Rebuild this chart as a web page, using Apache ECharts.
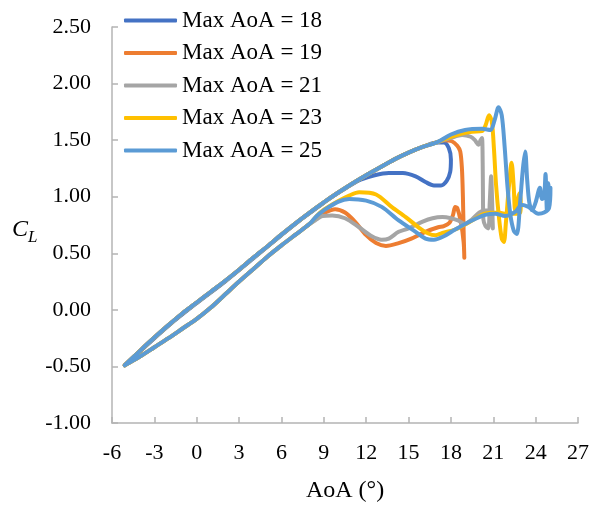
<!DOCTYPE html>
<html>
<head>
<meta charset="utf-8">
<script src="https://cdn.jsdelivr.net/npm/echarts@6/dist/echarts.min.js"></script>
<style>
html,body{margin:0;padding:0;background:#fff;}
#chart{width:592px;height:508px;}
</style>
</head>
<body>
<div id="chart"></div>
<script>
// ---- Data (AoA in degrees, CL) ----
var seriesNames = ['Max AoA = 18', 'Max AoA = 19', 'Max AoA = 21', 'Max AoA = 23', 'Max AoA = 25'];
var seriesColors = ['#4472C4', '#ED7D31', '#A5A5A5', '#FFC000', '#5B9BD5'];

// shared upstroke branch (-5 -> 17 deg)
var upstroke = [[-5.1,-0.49],[-4,-0.36],[-3,-0.245],[-2,-0.135],[-1,-0.03],[0,0.065],[1,0.16],[2,0.255],[3,0.355],[4,0.46],[5,0.56],[6,0.665],[7,0.765],[8,0.86],[9,0.95],[10,1.035],[11,1.115],[12,1.19],[13,1.26],[14,1.33],[15,1.39],[16,1.44],[17,1.48]];
// shared downstroke branch (8 -> -5 deg)
var downstroke = [[8,0.76],[7,0.665],[6,0.57],[5,0.47],[4,0.36],[3,0.25],[2,0.135],[1,0.02],[0,-0.08],[-1,-0.165],[-2,-0.25],[-3,-0.33],[-4,-0.41],[-5.1,-0.49]];

var stall18 = [[17.5,1.48],[17.85,1.43],[18.0,1.33],[17.95,1.22],[17.7,1.14],[17.3,1.10],[16.8,1.10],[16.2,1.13],[15.5,1.18],[14.6,1.21],[13.6,1.21],[12.6,1.19],[11.6,1.15],[10.6,1.08],[9.6,1.0],[8.6,0.91],[7.5,0.81],[6,0.66],[4,0.455],[2,0.25],[0,0.06],[-2,-0.14],[-4,-0.365],[-5.1,-0.49]];
var stall19 = [[17.5,1.50],[18.07,1.49],[18.45,1.45],[18.66,1.40],[18.78,1.25],[18.85,1.0],[18.9,0.7],[18.95,0.46],[18.9,0.6],[18.7,0.78],[18.45,0.90],[18.3,0.91],[18.15,0.84],[17.9,0.77],[17.5,0.74],[17.1,0.73],[16.2,0.69],[15.2,0.63],[14.3,0.59],[13.4,0.565],[12.7,0.59],[12.0,0.66],[11.2,0.78],[10.5,0.86],[9.8,0.89],[9.1,0.86],[8.5,0.81]];
var stall21 = [[18,1.52],[18.8,1.545],[19.4,1.53],[19.7,1.50],[19.95,1.46],[20.1,1.50],[20.2,1.52],[20.25,1.3],[20.27,1.0],[20.3,0.80],[20.45,0.74],[20.65,0.72],[20.75,0.95],[20.85,1.18],[20.92,0.95],[20.97,0.72],[20.9,0.80],[20.7,0.87],[20.4,0.88],[20.0,0.86],[19.5,0.80],[19.0,0.76],[18.5,0.79],[18.0,0.81],[17.4,0.82],[16.7,0.81],[16,0.78],[15,0.72],[14.3,0.69],[13.6,0.63],[13.1,0.62],[12.4,0.65],[11.5,0.73],[10.5,0.81],[9.6,0.835],[8.9,0.83],[8.5,0.80]];
var stall23 = [[18,1.53],[19,1.565],[19.5,1.575],[20.2,1.58],[20.45,1.63],[20.7,1.72],[20.9,1.66],[21.05,1.42],[21.2,1.10],[21.4,0.82],[21.6,0.63],[21.75,0.60],[21.9,0.78],[22.1,1.08],[22.3,1.30],[22.45,1.08],[22.55,0.88],[22.7,0.96],[22.85,1.03],[22.95,0.93],[22.9,0.86],[22.5,0.85],[21.8,0.85],[21.4,0.86],[20.4,0.85],[19.5,0.79],[18.3,0.71],[17.4,0.68],[16.9,0.66],[16.4,0.675],[15.7,0.73],[14.8,0.82],[13.8,0.91],[12.7,1.02],[11.5,1.04],[10.8,1.01],[10,0.96],[9,0.885],[8.5,0.83]];
var stall25 = [[18,1.55],[19,1.59],[20.2,1.60],[20.8,1.59],[21.1,1.68],[21.37,1.79],[21.6,1.72],[21.8,1.45],[22.0,1.10],[22.2,0.85],[22.45,0.70],[22.67,0.67],[22.9,0.95],[23.1,1.25],[23.26,1.40],[23.4,1.15],[23.55,0.95],[23.75,0.88],[24.0,0.95],[24.3,1.08],[24.45,0.98],[24.6,1.0],[24.7,1.20],[24.8,0.88],[24.9,1.12],[25.0,0.92],[25.05,1.08],[24.95,0.90],[24.6,0.86],[24.2,0.85],[23.5,0.91],[23.0,0.93],[22.6,0.87],[21.84,0.83],[21.14,0.85],[20.43,0.84],[19.49,0.79],[18.3,0.71],[17.5,0.65],[16.8,0.62],[16.2,0.63],[15.5,0.69],[14.3,0.79],[13.1,0.91],[12,0.965],[10.8,0.98],[10,0.955],[9,0.88],[8.5,0.83]];

var xTicks = [-6,-3,0,3,6,9,12,15,18,21,24,27];
var yTicks = [-1.0,-0.5,0.0,0.5,1.0,1.5,2.0,2.5];

var loops = [
  upstroke.concat(stall18),
  upstroke.concat(stall19, downstroke),
  upstroke.concat(stall21, downstroke),
  upstroke.concat(stall23, downstroke),
  upstroke.concat(stall25, downstroke)
];

var chart = echarts.init(document.getElementById('chart'), null, {renderer: 'canvas'});
var axisColor = '#B4B4B4';
var font = 'Liberation Serif';

var series = loops.map(function (d, i) {
  return {
    name: seriesNames[i],
    type: 'line',
    data: d,
    symbol: 'none',
    smooth: 0.3,
    lineStyle: {color: seriesColors[i], width: 4, cap: 'round', join: 'round'},
    itemStyle: {color: seriesColors[i]},
    z: 2 + i
  };
});

chart.setOption({
  animation: false,
  backgroundColor: '#ffffff',
  grid: {left: 112, right: 13, top: 27, bottom: 79, containLabel: false},
  legend: {
    orient: 'vertical',
    left: 119,
    top: 4,
    padding: 5,
    icon: 'roundRect',
    itemWidth: 53,
    itemHeight: 4,
    itemGap: 9.5,
    data: seriesNames,
    textStyle: {fontFamily: font, fontSize: 23, color: '#000', lineHeight: 23}
  },
  xAxis: {
    type: 'value',
    min: xTicks[0],
    max: xTicks[xTicks.length - 1],
    interval: 3,
    name: 'AoA (°)',
    nameLocation: 'middle',
    nameGap: 56,
    nameTextStyle: {fontFamily: font, fontSize: 24, color: '#000'},
    axisLine: {show: true, onZero: false, lineStyle: {color: axisColor, width: 1.5}},
    axisTick: {show: true, inside: true, length: 6, lineStyle: {color: axisColor, width: 1.5}},
    axisLabel: {fontFamily: font, fontSize: 22, color: '#000', margin: 19},
    splitLine: {show: false}
  },
  yAxis: {
    type: 'value',
    min: yTicks[0],
    max: yTicks[yTicks.length - 1],
    interval: 0.5,
    axisLine: {show: true, onZero: false, lineStyle: {color: axisColor, width: 1.5}},
    axisTick: {show: true, inside: true, length: 6, lineStyle: {color: axisColor, width: 1.5}},
    axisLabel: {fontFamily: font, fontSize: 22, color: '#000', margin: 21,
      formatter: function (v) { return v.toFixed(2); }},
    splitLine: {show: false}
  },
  graphic: [
    {type: 'text', left: 12, top: 218, style: {text: 'C', font: 'italic 24px "Liberation Serif"', fill: '#000'}},
    {type: 'text', left: 28, top: 229, style: {text: 'L', font: 'italic 17px "Liberation Serif"', fill: '#000'}}
  ],
  series: series
});
</script>
</body>
</html>
